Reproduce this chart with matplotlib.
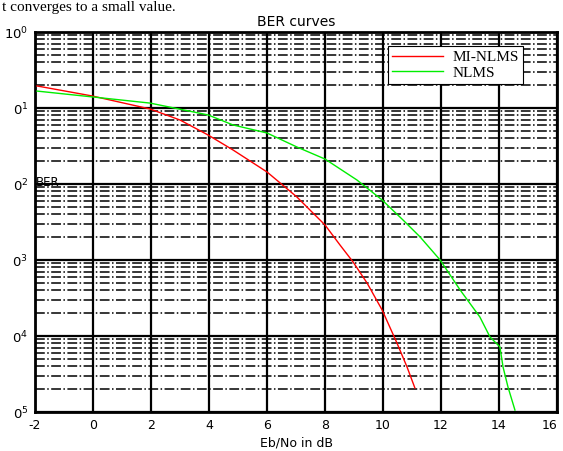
import matplotlib
matplotlib.use('Agg')
import matplotlib.pyplot as plt
from matplotlib.ticker import LogLocator, NullFormatter, FixedLocator
import numpy as np

# BER curves
mi_snr = [-1.93, -0.03, 1.97, 3.0, 3.97, 4.83, 6.0, 7.03, 8.0, 8.52, 8.97, 9.45, 9.97, 10.48, 10.83, 11.1]
mi_ber = [0.195, 0.144, 0.097, 0.0695, 0.0441, 0.028, 0.0144, 0.00675, 0.00289, 0.00157,
          9.4e-4, 4.98e-4, 2.2e-4, 8.1e-5, 3.9e-5, 2.07e-5]

nlms_snr = [-1.93, -0.03, 1.97, 3.97, 4.83, 6.0, 7.03, 8.0, 9.1, 9.97, 10.69, 11.28,
            11.97, 12.66, 13.34, 13.69, 14.03, 14.14, 14.31, 14.55]
nlms_ber = [0.167, 0.140, 0.116, 0.081, 0.0598, 0.0469, 0.0307, 0.0213, 0.0113, 0.00616,
            0.00336, 0.00201, 0.001, 4.03e-4, 1.78e-4, 9.7e-5, 7.2e-5, 3.9e-5, 2.13e-5, 1.06e-5]

x_ticks = [-2, 0, 2, 4, 6, 8, 10, 12, 14, 16]
y_ticks = [1e0, 1e-1, 1e-2, 1e-3, 1e-4, 1e-5]
# the scan cut off the "1-" of the exponent labels
y_labels = ['10$^{0}$', '0$^{1}$', '0$^{2}$', '0$^{3}$', '0$^{4}$', '0$^{5}$']

fig = plt.figure(figsize=(5.63, 4.51), dpi=100)
ax = fig.add_axes([35/563, 39/451, 522/563, 380/451])

ax.semilogy(mi_snr, mi_ber, color='#ff0000', lw=1.0, label='MI-NLMS', zorder=3)
ax.semilogy(nlms_snr, nlms_ber, color='#00ee00', lw=1.0, label='NLMS', zorder=3)

ax.set_xlim(-2, 16)
ax.set_ylim(1e-5, 1e0)
ax.set_xticks(x_ticks)
ax.set_xticklabels([str(t) for t in x_ticks], fontsize=9)
ax.get_xticklabels()[-1].set_ha('right')  # keep "16" inside the figure
ax.yaxis.set_major_locator(FixedLocator(y_ticks))
ax.set_yticklabels(y_labels, fontsize=9.5)
ax.yaxis.set_minor_locator(LogLocator(base=10, subs=np.arange(2, 10)))
ax.yaxis.set_minor_formatter(NullFormatter())
ax.tick_params(direction='in', which='both', length=0, pad=5)

# MATLAB-like grid: solid majors, dash-dot minors
ax.grid(True, which='major', color='black', lw=1.6, ls='-')
ax.grid(True, which='minor', axis='y', color='black', lw=1.1, ls='-.')
ax.set_axisbelow(True)
for sp in ax.spines.values():
    sp.set_linewidth(2.0)

ax.set_xlabel('Eb/No in dB', fontsize=9, labelpad=3)
ax.set_title('BER curves', fontsize=10, pad=4)

leg = ax.legend(loc='upper left', bbox_to_anchor=(0.676, 0.963), borderaxespad=0,
                fancybox=False, framealpha=1, edgecolor='black',
                prop={'family': 'Liberation Serif', 'size': 11},
                handlelength=3.3, handletextpad=0.6, labelspacing=0.1, borderpad=0.3)
leg.get_frame().set_linewidth(0.8)

# misplaced y label and cropped paper text from the scan
fig.text(36/563, 1 - 183/451, 'BER', fontsize=8.5, va='center', ha='left')
fig.text(2/563, 1 - 11/451, 't converges to a small value.', fontsize=11,
         family='Liberation Serif', va='baseline', ha='left')

fig.savefig('out.png', dpi=100)
